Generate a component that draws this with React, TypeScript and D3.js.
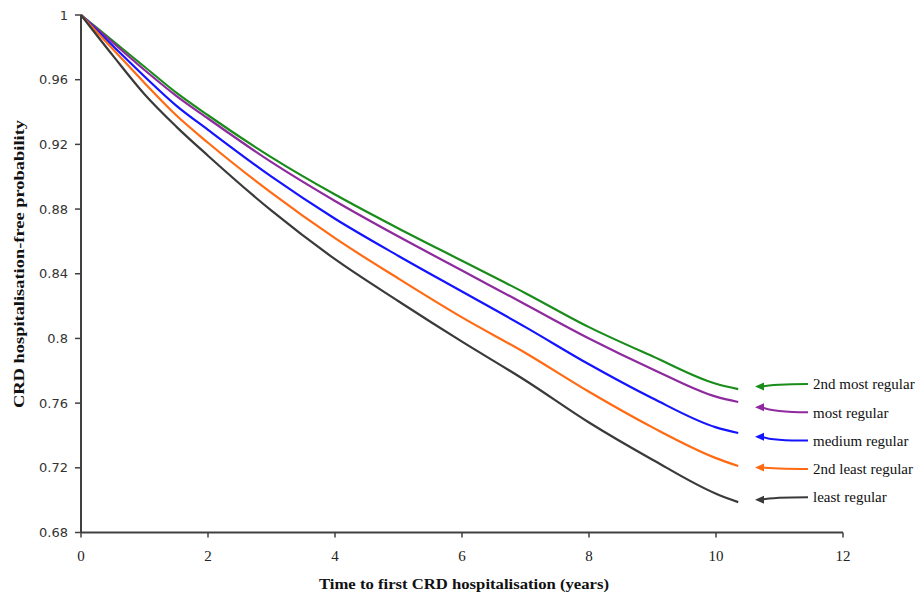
import React from "react";
import * as d3 from "d3";

const times = [0, 0.5, 1, 1.5, 2, 3, 4, 5, 6, 7, 8, 9, 10, 10.35];
const seriesNames = ["2nd most regular", "most regular", "medium regular", "2nd least regular", "least regular"];
const seriesColors = ["#1a8c1a", "#8e2a9e", "#1414ff", "#ff6a13", "#3a3a3a"];
const secondMost = [1, 0.984, 0.968, 0.952, 0.938, 0.912, 0.889, 0.868, 0.848, 0.828, 0.807, 0.789, 0.772, 0.7687];
const mostRegular = [1, 0.983, 0.966, 0.950, 0.936, 0.909, 0.885, 0.863, 0.842, 0.821, 0.800, 0.781, 0.764, 0.7607];
const medium = [1, 0.981, 0.962, 0.944, 0.929, 0.900, 0.874, 0.851, 0.829, 0.807, 0.784, 0.763, 0.745, 0.7415];
const secondLeast = [1, 0.979, 0.958, 0.938, 0.921, 0.890, 0.862, 0.837, 0.813, 0.791, 0.767, 0.745, 0.726, 0.7211];
const least = [1, 0.975, 0.951, 0.931, 0.913, 0.879, 0.849, 0.823, 0.798, 0.774, 0.748, 0.725, 0.704, 0.6988];
const seriesValues = [secondMost, mostRegular, medium, secondLeast, least];
const xTicks = [0, 2, 4, 6, 8, 10, 12];
const yTicks = [0.68, 0.72, 0.76, 0.8, 0.84, 0.88, 0.92, 0.96, 1];
const yTickLabels = ["0.68", "0.72", "0.76", "0.8", "0.84", "0.88", "0.92", "0.96", "1"];
const xTitle = "Time to first CRD hospitalisation (years)";
const yTitle = "CRD hospitalisation-free probability";

export default function App() {
  const W = 922, H = 599;
  const x = d3.scaleLinear().domain([0, 12]).range([81, 843]);
  const y = d3.scaleLinear().domain([0.68, 1]).range([532.5, 15]);
  const line = d3.line<number>().x((_, i) => x(times[i])).y((v) => y(v)).curve(d3.curveMonotoneX);
  const axisColor = "#404040";
  const labelX = 813;
  const labelY0 = 384;
  const labelStep = 28.3;
  const arrowTail = 808;
  const arrowHead = 755;

  return (
    <svg width={W} height={H} style={{ position: "absolute", left: 0, top: 0, background: "#fff" }}>
      {seriesValues.map((vals, si) => (
        <path key={si} d={line(vals) || ""} fill="none" stroke={seriesColors[si]} strokeWidth={2.2} strokeLinejoin="round" />
      ))}
      <line x1={x(0)} x2={x(12)} y1={y(0.68)} y2={y(0.68)} stroke={axisColor} strokeWidth={2} />
      <line x1={x(0)} x2={x(0)} y1={y(0.68)} y2={y(1)} stroke={axisColor} strokeWidth={2} />
      {yTicks.map((t, i) => (
        <g key={"y" + i}>
          <line x1={x(0) - 6} x2={x(0)} y1={y(t)} y2={y(t)} stroke={axisColor} strokeWidth={1.5} />
          <text x={68} y={y(t)} dy="0.35em" textAnchor="end" fontFamily="'DejaVu Sans', sans-serif" fontSize={13} fill="#333">
            {yTickLabels[i]}
          </text>
        </g>
      ))}
      {xTicks.map((t, i) => (
        <g key={"x" + i}>
          <line x1={x(t)} x2={x(t)} y1={y(0.68)} y2={y(0.68) + 5} stroke={axisColor} strokeWidth={1.5} />
          <text x={x(t)} y={556} dy="0.35em" textAnchor="middle" fontFamily="'Liberation Serif', serif" fontSize={15} fill="#222">
            {t}
          </text>
        </g>
      ))}
      <text x={464} y={589} textAnchor="middle" fontFamily="'Liberation Serif', serif" fontWeight="bold" fontSize={15} fill="#111" textLength={290} lengthAdjust="spacingAndGlyphs">
        {xTitle}
      </text>
      <text transform={`translate(24, ${264}) rotate(-90)`} textAnchor="middle" fontFamily="'Liberation Serif', serif" fontWeight="bold" fontSize={15} fill="#111" textLength={288} lengthAdjust="spacingAndGlyphs">
        {yTitle}
      </text>
      {seriesNames.map((name, si) => {
        const ly = labelY0 + si * labelStep;
        const endV = seriesValues[si][seriesValues[si].length - 1];
        const hy = (ly + y(endV)) / 2;
        const c = seriesColors[si];
        return (
          <g key={"l" + si}>
            <path d={`M${arrowTail},${ly} Q${arrowHead + 18},${ly} ${arrowHead + 7},${hy}`} fill="none" stroke={c} strokeWidth={2} />
            <path d={`M${arrowHead},${hy} L${arrowHead + 9},${hy - 4} L${arrowHead + 9},${hy + 4} Z`} fill={c} />
            <text x={labelX} y={ly} dy="0.35em" fontFamily="'Liberation Serif', serif" fontSize={15} fill="#111">
              {name}
            </text>
          </g>
        );
      })}
    </svg>
  );
}
